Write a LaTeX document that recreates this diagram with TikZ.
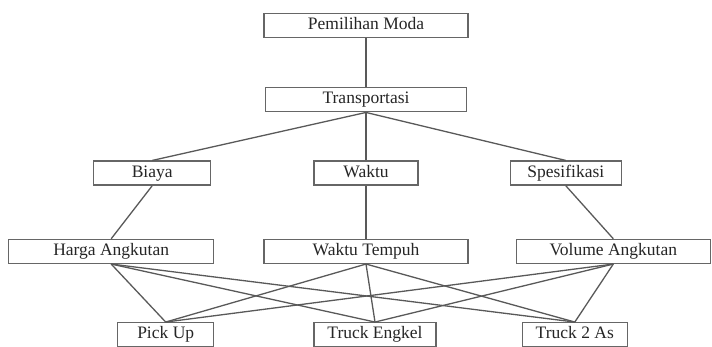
\documentclass[tikz,border=0pt]{standalone}
\usepackage{fontspec}
\setmainfont{Liberation Serif}
\usetikzlibrary{positioning}
\begin{document}
\begin{tikzpicture}[x=1pt,y=-1pt,
 font=\fontsize{17.5}{20}\selectfont,
 b/.style={draw=black!60,line width=1.3pt,minimum height=24pt,inner sep=2pt,text height=12pt,text depth=4pt,fill=white,text=black!85},
 ln/.style={draw=black!65,line width=1.3pt}]
\useasboundingbox (0,0) rectangle (712,347);
\node[b,minimum width=204pt] (moda) at (366,25.5) {Pemilihan Moda};
\node[b,minimum width=201pt,below=49pt of moda] (trans) {Transportasi};
\node[b,minimum width=104pt,below=48pt of trans] (waktu) {Waktu};
\node[b,minimum width=117pt,left=102pt of waktu] (biaya) {Biaya};
\node[b,minimum width=111pt,right=91pt of waktu] (spek) {Spesifikasi};
\node[b,minimum width=204pt,below=53pt of waktu] (tempuh) {Waktu Tempuh};
\node[b,minimum width=205pt,left=49pt of tempuh] (harga) {Harga Angkutan};
\node[b,minimum width=194pt,right=47pt of tempuh] (volume) {Volume Angkutan};
\node[b,minimum width=122pt,below=58pt of tempuh,xshift=9pt] (engkel) {Truck Engkel};
\node[b,minimum width=96pt,left=99pt of engkel] (pickup) {Pick Up};
\node[b,minimum width=105pt,right=85pt of engkel] (truk2) {Truck 2 As};
\draw[ln] (moda)--(trans);
\draw[ln] (trans.south)--(biaya.north); \draw[ln] (trans.south)--(waktu.north); \draw[ln] (trans.south)--(spek.north);
\draw[ln] (biaya.south)--(harga.north); \draw[ln] (waktu.south)--(tempuh.north); \draw[ln] (spek.south)--(volume.north);
\draw[ln] (harga.south)--(pickup.north); \draw[ln] (harga.south)--(engkel.north); \draw[ln] (harga.south)--(truk2.north);
\draw[ln] (tempuh.south)--(pickup.north); \draw[ln] (tempuh.south)--(engkel.north); \draw[ln] (tempuh.south)--(truk2.north);
\draw[ln] (volume.south)--(pickup.north); \draw[ln] (volume.south)--(engkel.north); \draw[ln] (volume.south)--(truk2.north);
\end{tikzpicture}
\end{document}
